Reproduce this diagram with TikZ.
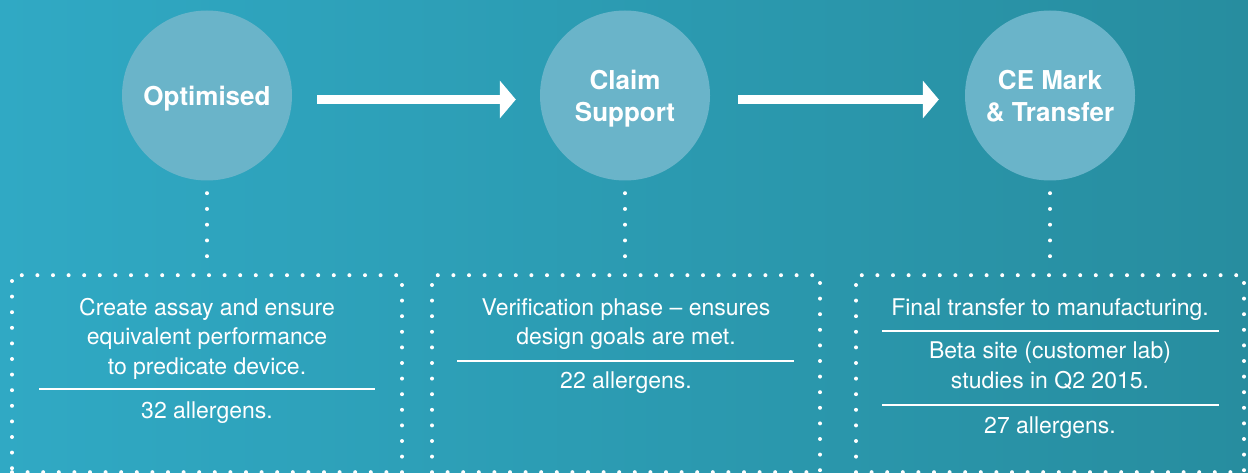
\documentclass[tikz,border=0pt]{standalone}
\usepackage{fontspec}
\setmainfont{TeX Gyre Heros}
\usetikzlibrary{arrows.meta,positioning}
\definecolor{bgleft}{HTML}{30A9C4}
\definecolor{bgright}{HTML}{278D9F}
\definecolor{circfill}{HTML}{6AB4C9}

\begin{document}
\begin{tikzpicture}[x=1pt, y=1pt, node distance=92.5pt, circ/.style={circle, fill=circfill, minimum size=170pt, inner sep=0pt, align=center, text=white, text depth=0pt, font=\fontsize{26}{32}\selectfont\bfseries}, box/.style={draw=white, line width=4pt, dash pattern=on 0pt off 15.6pt, line cap=round, minimum width=388pt, minimum height=197pt, inner sep=0pt}, txt/.style={text=white, align=center, anchor=base, inner sep=0pt, font=\fontsize{23}{29.5}\selectfont}, sep/.style={white, line width=1.3pt}, arr/.style={white, line width=9pt, -{Triangle[length=16pt,width=37pt]}}, dots/.style={white, line width=4pt, dash pattern=on 0pt off 15.75pt, line cap=round, shorten <=12.5pt, shorten >=15pt}]
\shade[left color=bgleft, right color=bgright] (0,0) rectangle (1248,472);
\useasboundingbox (0,0) rectangle (1248,472);
\node[circ] (opt) at (207,376.5) {Optimised};
\node[circ] (claim) at (625,376.5) {Claim\\Support};
\node[circ] (ce) at (1050,376.5) {CE Mark\\\& Transfer};
\node[box, minimum width=390pt, below=of opt] (b1) {};
\node[box, below=of claim, xshift=1pt] (b2) {};
\node[box, below=of ce] (b3) {};
\draw[arr, shorten <=25pt, shorten >=24pt] ([yshift=-4pt]opt.east) -- ([yshift=-4pt]claim.west);
\draw[arr, shorten <=28pt, shorten >=26pt] ([yshift=-4pt]claim.east) -- ([yshift=-4pt]ce.west);
\draw[dots] (opt) -- (b1); \draw[dots] (claim) -- ([xshift=-1pt]b2.north); \draw[dots] (ce) -- (b3);
% box texts
\node[txt] (t1) at (207,98) {Create assay and ensure\\equivalent performance\\to predicate device.};
\node[txt] (n1) at (207,54) {32 allergens.};
\draw[sep] (39,83) -- (375,83);
\node[txt] (t2) at (626,127.5) {Verification phase -- ensures\\design goals are met.};
\node[txt] (n2) at (626,84) {22 allergens.};
\draw[sep] (457,111) -- (794,111);
\node[txt] (t3) at (1050,157) {Final transfer to manufacturing.};
\draw[sep] (882,141) -- (1219,141);
\node[txt] (t4) at (1050,84) {Beta site (customer lab)\\studies in Q2 2015.};
\draw[sep] (882,67) -- (1219,67);
\node[txt] (n3) at (1050,39) {27 allergens.};
\end{tikzpicture}
\end{document}
